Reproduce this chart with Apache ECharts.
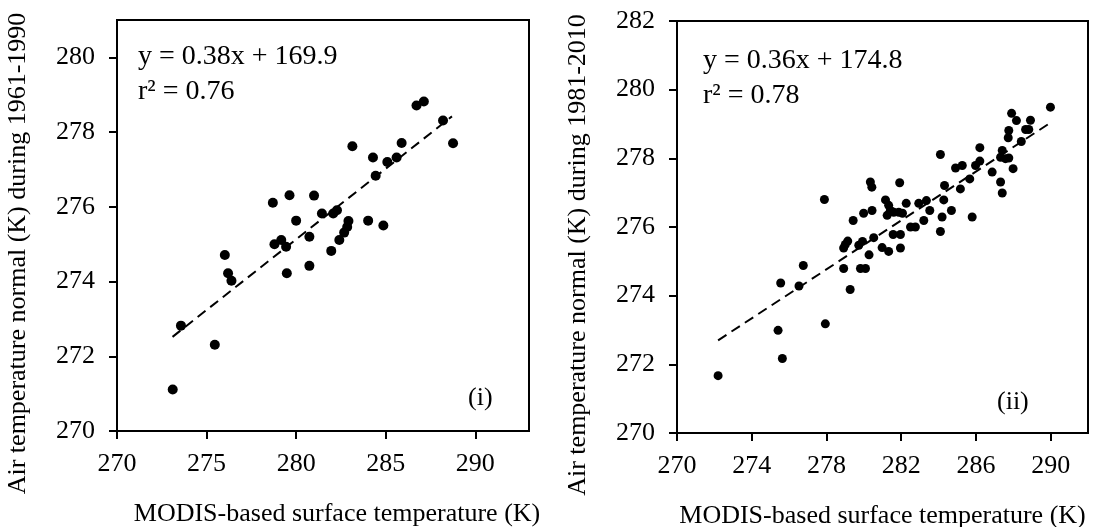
<!DOCTYPE html>
<html>
<head>
<meta charset="utf-8">
<script src="https://cdn.jsdelivr.net/npm/echarts@6/dist/echarts.min.js"></script>
<style>
  html, body { margin: 0; padding: 0; background: #fff; }
  #chart { width: 1112px; height: 527px; }
</style>
</head>
<body>
<div id="chart"></div>
<script>
// panel (i): 1961-1990 normals
const leftX = [286.72, 287.13, 288.20, 288.76, 283.14, 285.89, 284.29, 285.09, 285.61, 284.44,
  278.70, 279.63, 281.00, 281.44, 282.07, 282.28, 280.00, 282.92, 284.02, 284.87,
  282.85, 280.74, 282.68, 282.41, 278.79, 279.17, 279.44, 281.96, 276.02, 276.20,
  276.39, 279.48, 280.74, 273.57, 275.46, 273.11];
const leftY = [278.71, 278.82, 278.31, 277.70, 277.62, 277.71, 277.32, 277.20, 277.32, 276.83,
  276.11, 276.31, 276.30, 275.82, 275.82, 275.91, 275.63, 275.62, 275.63, 275.50,
  275.46, 275.20, 275.31, 275.11, 275.00, 275.11, 274.93, 274.82, 274.71, 274.22,
  274.02, 274.22, 274.42, 272.82, 272.31, 271.11];
const leftTrend = [[273.1, 272.52], [288.7, 278.42]];

// panel (ii): 1981-2010 normals
const rightX = [272.20, 275.64, 275.41, 277.94, 275.55, 276.53, 276.76, 279.27, 278.92, 279.82,
  280.09, 278.92, 279.01, 279.14, 279.73, 279.93, 280.53, 280.28, 280.98, 281.33,
  281.57, 281.96, 281.96, 284.10, 277.89, 280.35, 280.43, 281.92, 279.43, 279.99,
  280.44, 281.16, 281.33, 281.42, 281.25, 281.60, 281.87, 282.27, 282.07, 282.94,
  283.35, 283.53, 284.28, 284.69, 284.19, 285.80, 282.50, 282.76, 283.21, 284.32,
  285.17, 285.67, 284.91, 285.27, 285.98, 286.21, 286.21, 286.87, 287.32, 287.41,
  287.41, 287.32, 287.58, 287.76, 287.99, 287.76, 287.73, 288.43, 287.91, 288.17,
  288.66, 288.83, 288.92, 289.99, 284.10];
const rightY = [271.67, 272.17, 272.99, 273.18, 274.37, 274.28, 274.88, 274.18, 274.79, 274.79,
  274.79, 275.39, 275.49, 275.59, 275.47, 275.58, 275.69, 275.19, 275.40, 275.29,
  275.78, 275.78, 275.39, 275.87, 276.80, 277.31, 277.16, 277.29, 276.19, 276.40,
  276.48, 276.79, 276.63, 276.48, 276.34, 276.43, 276.43, 276.69, 276.40, 276.69,
  276.77, 276.48, 276.79, 276.48, 276.29, 276.29, 276.00, 276.00, 276.19, 277.21,
  277.11, 277.40, 277.72, 277.79, 277.79, 277.92, 278.31, 277.60, 277.31, 276.99,
  278.23, 278.03, 277.99, 278.01, 277.70, 278.81, 278.60, 278.49, 279.31, 279.10,
  278.84, 278.84, 279.11, 279.49, 278.11];
const rightTrend = [[272.2, 272.7], [290.0, 279.04]];

const leftXTicks = [270, 275, 280, 285, 290];
const leftYTicks = [270, 272, 274, 276, 278, 280];
const rightXTicks = [270, 274, 278, 282, 286, 290];
const rightYTicks = [270, 272, 274, 276, 278, 280, 282];

const FONT = 'Liberation Serif';

function pairs(xs, ys) {
  return xs.map((x, i) => [x, ys[i]]);
}

function xAxisFor(idx, min, max, ticks, namePad) {
  return {
    gridIndex: idx, type: 'value', min: min, max: max,
    name: 'MODIS-based surface temperature (K)',
    nameLocation: 'middle', nameGap: 70,
    nameTextStyle: { fontFamily: FONT, fontSize: 26, color: '#000', padding: namePad },
    splitLine: { show: false },
    axisLine: { show: true, onZero: false, lineStyle: { color: '#000', width: 2 } },
    axisTick: { show: true, inside: false, length: 8, customValues: ticks, lineStyle: { color: '#000', width: 2 } },
    axisLabel: { customValues: ticks, margin: 20, fontFamily: FONT, fontSize: 26, color: '#000' }
  };
}

function yAxisFor(idx, min, max, ticks, name) {
  return {
    gridIndex: idx, type: 'value', min: min, max: max,
    name: name,
    nameLocation: 'middle', nameGap: 86,
    nameTextStyle: { fontFamily: FONT, fontSize: 26, color: '#000', padding: [0, 56, 0, 0] },
    splitLine: { show: false },
    axisLine: { show: true, onZero: false, lineStyle: { color: '#000', width: 2 } },
    axisTick: { show: true, inside: false, length: 8, customValues: ticks, lineStyle: { color: '#000', width: 2 } },
    axisLabel: { customValues: ticks, margin: 22, fontFamily: FONT, fontSize: 26, color: '#000' }
  };
}

const chart = echarts.init(document.getElementById('chart'), null, { renderer: 'canvas' });

const eqFont = '28px "Liberation Serif"';
const tagFont = '26px "Liberation Serif"';

const option = {
  animation: false,
  backgroundColor: '#fff',
  grid: [
    { left: 117, top: 20, width: 412, height: 411, outerBoundsMode: 'none', show: true, borderColor: '#000', borderWidth: 2, backgroundColor: 'transparent' },
    { left: 677, top: 21, width: 411, height: 412, outerBoundsMode: 'none', show: true, borderColor: '#000', borderWidth: 2, backgroundColor: 'transparent' }
  ],
  xAxis: [
    xAxisFor(0, 270, 293, leftXTicks, [0, 0, 0, 28]),
    xAxisFor(1, 270, 292, rightXTicks, [0, 0, 0, 0])
  ],
  yAxis: [
    yAxisFor(0, 270, 281, leftYTicks, 'Air temperature normal (K) during 1961-1990'),
    yAxisFor(1, 270, 282, rightYTicks, 'Air temperature normal (K) during 1981-2010')
  ],
  graphic: [
    { type: 'text', left: 138, top: 43, style: { text: 'y = 0.38x + 169.9', font: eqFont, fill: '#000' } },
    { type: 'text', left: 138, top: 78, style: { text: 'r² = 0.76', font: eqFont, fill: '#000' } },
    { type: 'text', left: 468, top: 385, style: { text: '(i)', font: tagFont, fill: '#000' } },
    { type: 'text', left: 703, top: 47, style: { text: 'y = 0.36x + 174.8', font: eqFont, fill: '#000' } },
    { type: 'text', left: 703, top: 82, style: { text: 'r² = 0.78', font: eqFont, fill: '#000' } },
    { type: 'text', left: 997, top: 389, style: { text: '(ii)', font: tagFont, fill: '#000' } }
  ],
  series: [
    {
      type: 'line', xAxisIndex: 0, yAxisIndex: 0, data: leftTrend, symbol: 'none',
      lineStyle: { color: '#000', width: 2, type: [10, 6] }, z: 1
    },
    {
      type: 'scatter', xAxisIndex: 0, yAxisIndex: 0, data: pairs(leftX, leftY),
      symbol: 'circle', symbolSize: 10, itemStyle: { color: '#000', opacity: 1 }, z: 2
    },
    {
      type: 'line', xAxisIndex: 1, yAxisIndex: 1, data: rightTrend, symbol: 'none',
      lineStyle: { color: '#000', width: 2, type: [10, 6] }, z: 1
    },
    {
      type: 'scatter', xAxisIndex: 1, yAxisIndex: 1, data: pairs(rightX, rightY),
      symbol: 'circle', symbolSize: 9, itemStyle: { color: '#000', opacity: 1 }, z: 2
    }
  ]
};

chart.setOption(option);
</script>
</body>
</html>
